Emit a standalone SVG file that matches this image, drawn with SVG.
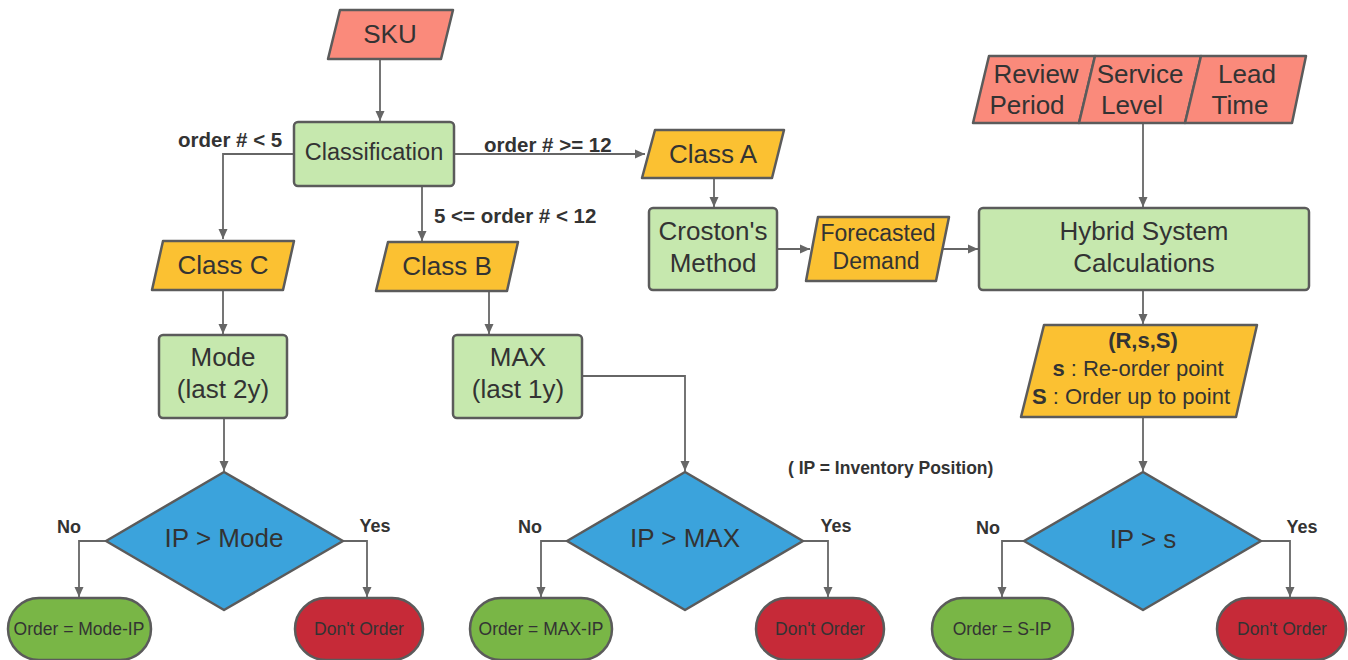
<svg xmlns="http://www.w3.org/2000/svg" width="1348" height="660" viewBox="0 0 1348 660">
<defs>
<marker id="ah" viewBox="0 0 10 10" refX="10" refY="5" markerWidth="11" markerHeight="10" markerUnits="userSpaceOnUse" orient="auto"><path d="M0,0.5 L10,5 L0,9.5 z" fill="#666"/></marker>
<style>
.s{stroke:#5b5b5b;stroke-width:2.5;stroke-linejoin:round}
.in{fill:#fa8a7b}
.yl{fill:#fbc132}
.gr{fill:#c6e8ae}
.bl{fill:#3ba3dc}
.go{fill:#79b646}
.rd{fill:#c62a38}
text{font-family:"Liberation Sans",Arial,sans-serif;fill:#333;text-anchor:middle;dominant-baseline:central}
.t26{font-size:26px}
.t24{font-size:23.5px}
.t22{font-size:22px}
.t17{font-size:17.5px}
.lb{font-size:20.5px;font-weight:bold;text-anchor:start}
.yn{font-size:18px;font-weight:bold}
.c{fill:none;stroke:#666;stroke-width:1.8;marker-end:url(#ah)}
</style>
</defs>
<g id="connectors">
<path class="c" d="M380,59 L380,121"/>
<path class="c" d="M294,154 L223,154 L223,239"/>
<path class="c" d="M454,154 L645,154"/>
<path class="c" d="M422,186 L422,241"/>
<path class="c" d="M714,178 L714,207"/>
<path class="c" d="M777,249 L810,249"/>
<path class="c" d="M942,249 L978,249"/>
<path class="c" d="M1143,123 L1143,207"/>
<path class="c" d="M1143,290 L1143,324"/>
<path class="c" d="M223,290 L223,334"/>
<path class="c" d="M489,290 L489,334"/>
<path class="c" d="M224,418 L224,471"/>
<path class="c" d="M582,376 L685,376 L685,471"/>
<path class="c" d="M1143,417 L1143,471"/>
<path class="c" d="M106,541 L79,541 L79,597"/>
<path class="c" d="M343,541 L367,541 L367,597"/>
<path class="c" d="M567,541 L541,541 L541,597"/>
<path class="c" d="M803,541 L828,541 L828,597"/>
<path class="c" d="M1024,541 L1002,541 L1002,597"/>
<path class="c" d="M1261,541 L1290,541 L1290,597"/>
</g>
<g id="labels">
<text class="lb" x="178" y="139">order # &lt; 5</text>
<text class="lb" x="484" y="144">order # &gt;= 12</text>
<text class="lb" x="434" y="215">5 &lt;= order # &lt; 12</text>
<text class="lb" x="788" y="468" style="font-size:17.5px">( IP = Inventory Position)</text>
</g>
<g id="sku"><path class="s in" d="M340,10 L453,10 L441,59 L328,59 Z"/><text class="t26" x="390" y="34">SKU</text></g>
<g id="classification"><rect class="s gr" x="294" y="122" width="160" height="64" rx="4"/><text class="t24" x="374" y="152">Classification</text></g>
<g id="classC"><path class="s yl" d="M163,241 L294,241 L283,290 L152,290 Z"/><text class="t26" x="223" y="265">Class C</text></g>
<g id="classB"><path class="s yl" d="M388,242 L518,242 L507,291 L376,291 Z"/><text class="t26" x="447" y="266">Class B</text></g>
<g id="classA"><path class="s yl" d="M655,130 L784,130 L772,178 L642,178 Z"/><text class="t26" x="713" y="154">Class A</text></g>
<g id="croston"><rect class="s gr" x="649" y="208" width="128" height="82" rx="4"/><text class="t26" x="713" y="231">Croston's</text><text class="t26" x="713" y="263">Method</text></g>
<g id="forecasted"><path class="s yl" d="M818,217 L949,217 L936,281 L806,281 Z"/><text x="878" y="233" style="font-size:23px">Forecasted</text><text x="876" y="261" style="font-size:23px">Demand</text></g>
<g id="hybrid"><rect class="s gr" x="979" y="208" width="330" height="82" rx="4"/><text class="t26" x="1144" y="231">Hybrid System</text><text class="t26" x="1144" y="263">Calculations</text></g>
<g id="review"><path class="s in" d="M989,56 L1095,56 L1079,123 L973,123 Z"/><text class="t26" x="1036" y="74">Review</text><text class="t26" x="1027" y="105">Period</text></g>
<g id="service"><path class="s in" d="M1095,56 L1201,56 L1185,123 L1079,123 Z"/><text class="t26" x="1140" y="74">Service</text><text class="t26" x="1132" y="105">Level</text></g>
<g id="lead"><path class="s in" d="M1201,56 L1306,56 L1292,123 L1185,123 Z"/><text class="t26" x="1247" y="74">Lead</text><text class="t26" x="1240" y="105">Time</text></g>
<g id="rss"><path class="s yl" d="M1044,325 L1257,325 L1236,417 L1021,417 Z"/><text class="t22" x="1143" y="340" font-weight="bold">(R,s,S)</text><text class="t22" x="1138" y="368"><tspan font-weight="bold">s</tspan> : Re-order point</text><text class="t22" x="1131" y="396"><tspan font-weight="bold">S</tspan> : Order up to point</text></g>
<g id="mode"><rect class="s gr" x="159" y="335" width="128" height="83" rx="4"/><text class="t26" x="223" y="357">Mode</text><text class="t26" x="223" y="389">(last 2y)</text></g>
<g id="max"><rect class="s gr" x="453" y="335" width="129" height="83" rx="4"/><text class="t26" x="518" y="357">MAX</text><text class="t26" x="518" y="389">(last 1y)</text></g>
<g id="d1"><path class="s bl" d="M224,472 L343,541 L224,610 L106,541 Z"/><text class="t26" x="224" y="538">IP &gt; Mode</text><text class="yn" x="69" y="527">No</text><text class="yn" x="375" y="526">Yes</text></g>
<g id="d2"><path class="s bl" d="M685,472 L803,541 L685,610 L567,541 Z"/><text class="t26" x="685" y="538">IP &gt; MAX</text><text class="yn" x="530" y="527">No</text><text class="yn" x="836" y="526">Yes</text></g>
<g id="d3"><path class="s bl" d="M1143,472 L1261,541 L1143,610 L1024,541 Z"/><text class="t26" x="1143" y="539">IP &gt; s</text><text class="yn" x="988" y="528">No</text><text class="yn" x="1302" y="527">Yes</text></g>
<g id="o1"><rect class="s go" x="8" y="598" width="143" height="62" rx="31"/><text class="t17" x="79" y="629">Order = Mode-IP</text></g>
<g id="n1"><rect class="s rd" x="295" y="598" width="128" height="62" rx="31"/><text class="t17" x="359" y="629">Don't Order</text></g>
<g id="o2"><rect class="s go" x="470" y="598" width="142" height="62" rx="31"/><text class="t17" x="541" y="629">Order = MAX-IP</text></g>
<g id="n2"><rect class="s rd" x="756" y="598" width="128" height="62" rx="31"/><text class="t17" x="820" y="629">Don't Order</text></g>
<g id="o3"><rect class="s go" x="932" y="598" width="141" height="62" rx="31"/><text class="t17" x="1002" y="629">Order = S-IP</text></g>
<g id="n3"><rect class="s rd" x="1217" y="598" width="129" height="62" rx="31"/><text class="t17" x="1282" y="629">Don't Order</text></g>
</svg>
